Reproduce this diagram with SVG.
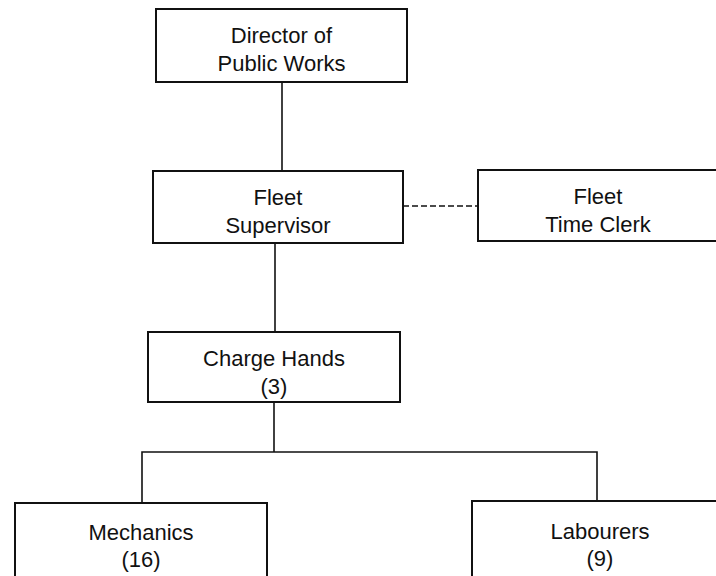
<svg xmlns="http://www.w3.org/2000/svg" width="716" height="576" viewBox="0 0 716 576">
  <style>
    .box { fill: #ffffff; stroke: #111111; stroke-width: 2; }
    .lbl { font-family: "Liberation Sans", Arial, sans-serif; font-size: 22px; fill: #111111; text-anchor: middle; }
    .conn { stroke: #111111; stroke-width: 1.6; fill: none; }
    .dash { stroke: #111111; stroke-width: 1.6; fill: none; stroke-dasharray: 6 3; }
  </style>
  <rect x="0" y="0" width="716" height="576" fill="#ffffff"/>
  <g id="connectors">
    <line class="conn" x1="282" y1="82" x2="282" y2="171"/>
    <line class="conn" x1="275" y1="243" x2="275" y2="332"/>
    <line class="conn" x1="274" y1="402" x2="274" y2="452"/>
    <polyline class="conn" points="142,503 142,452 597,452 597,501"/>
    <line class="dash" x1="403" y1="206" x2="478" y2="206"/>
  </g>
  <g id="director">
    <rect class="box" x="156" y="9" width="251" height="73"/>
    <text class="lbl" x="281.5" y="43">Director of</text>
    <text class="lbl" x="281.5" y="71">Public Works</text>
  </g>
  <g id="fleet-supervisor">
    <rect class="box" x="153" y="171" width="250" height="72"/>
    <text class="lbl" x="278" y="205">Fleet</text>
    <text class="lbl" x="278" y="233">Supervisor</text>
  </g>
  <g id="fleet-time-clerk">
    <rect class="box" x="478" y="170" width="250" height="71"/>
    <text class="lbl" x="598" y="204">Fleet</text>
    <text class="lbl" x="598" y="232">Time Clerk</text>
  </g>
  <g id="charge-hands">
    <rect class="box" x="148" y="332" width="252" height="70"/>
    <text class="lbl" x="274" y="366">Charge Hands</text>
    <text class="lbl" x="274" y="394">(3)</text>
  </g>
  <g id="mechanics">
    <rect class="box" x="15" y="503" width="252" height="90"/>
    <text class="lbl" x="141" y="540">Mechanics</text>
    <text class="lbl" x="141" y="567">(16)</text>
  </g>
  <g id="labourers">
    <rect class="box" x="472" y="501" width="256" height="90"/>
    <text class="lbl" x="600" y="539">Labourers</text>
    <text class="lbl" x="600" y="566">(9)</text>
  </g>
</svg>
